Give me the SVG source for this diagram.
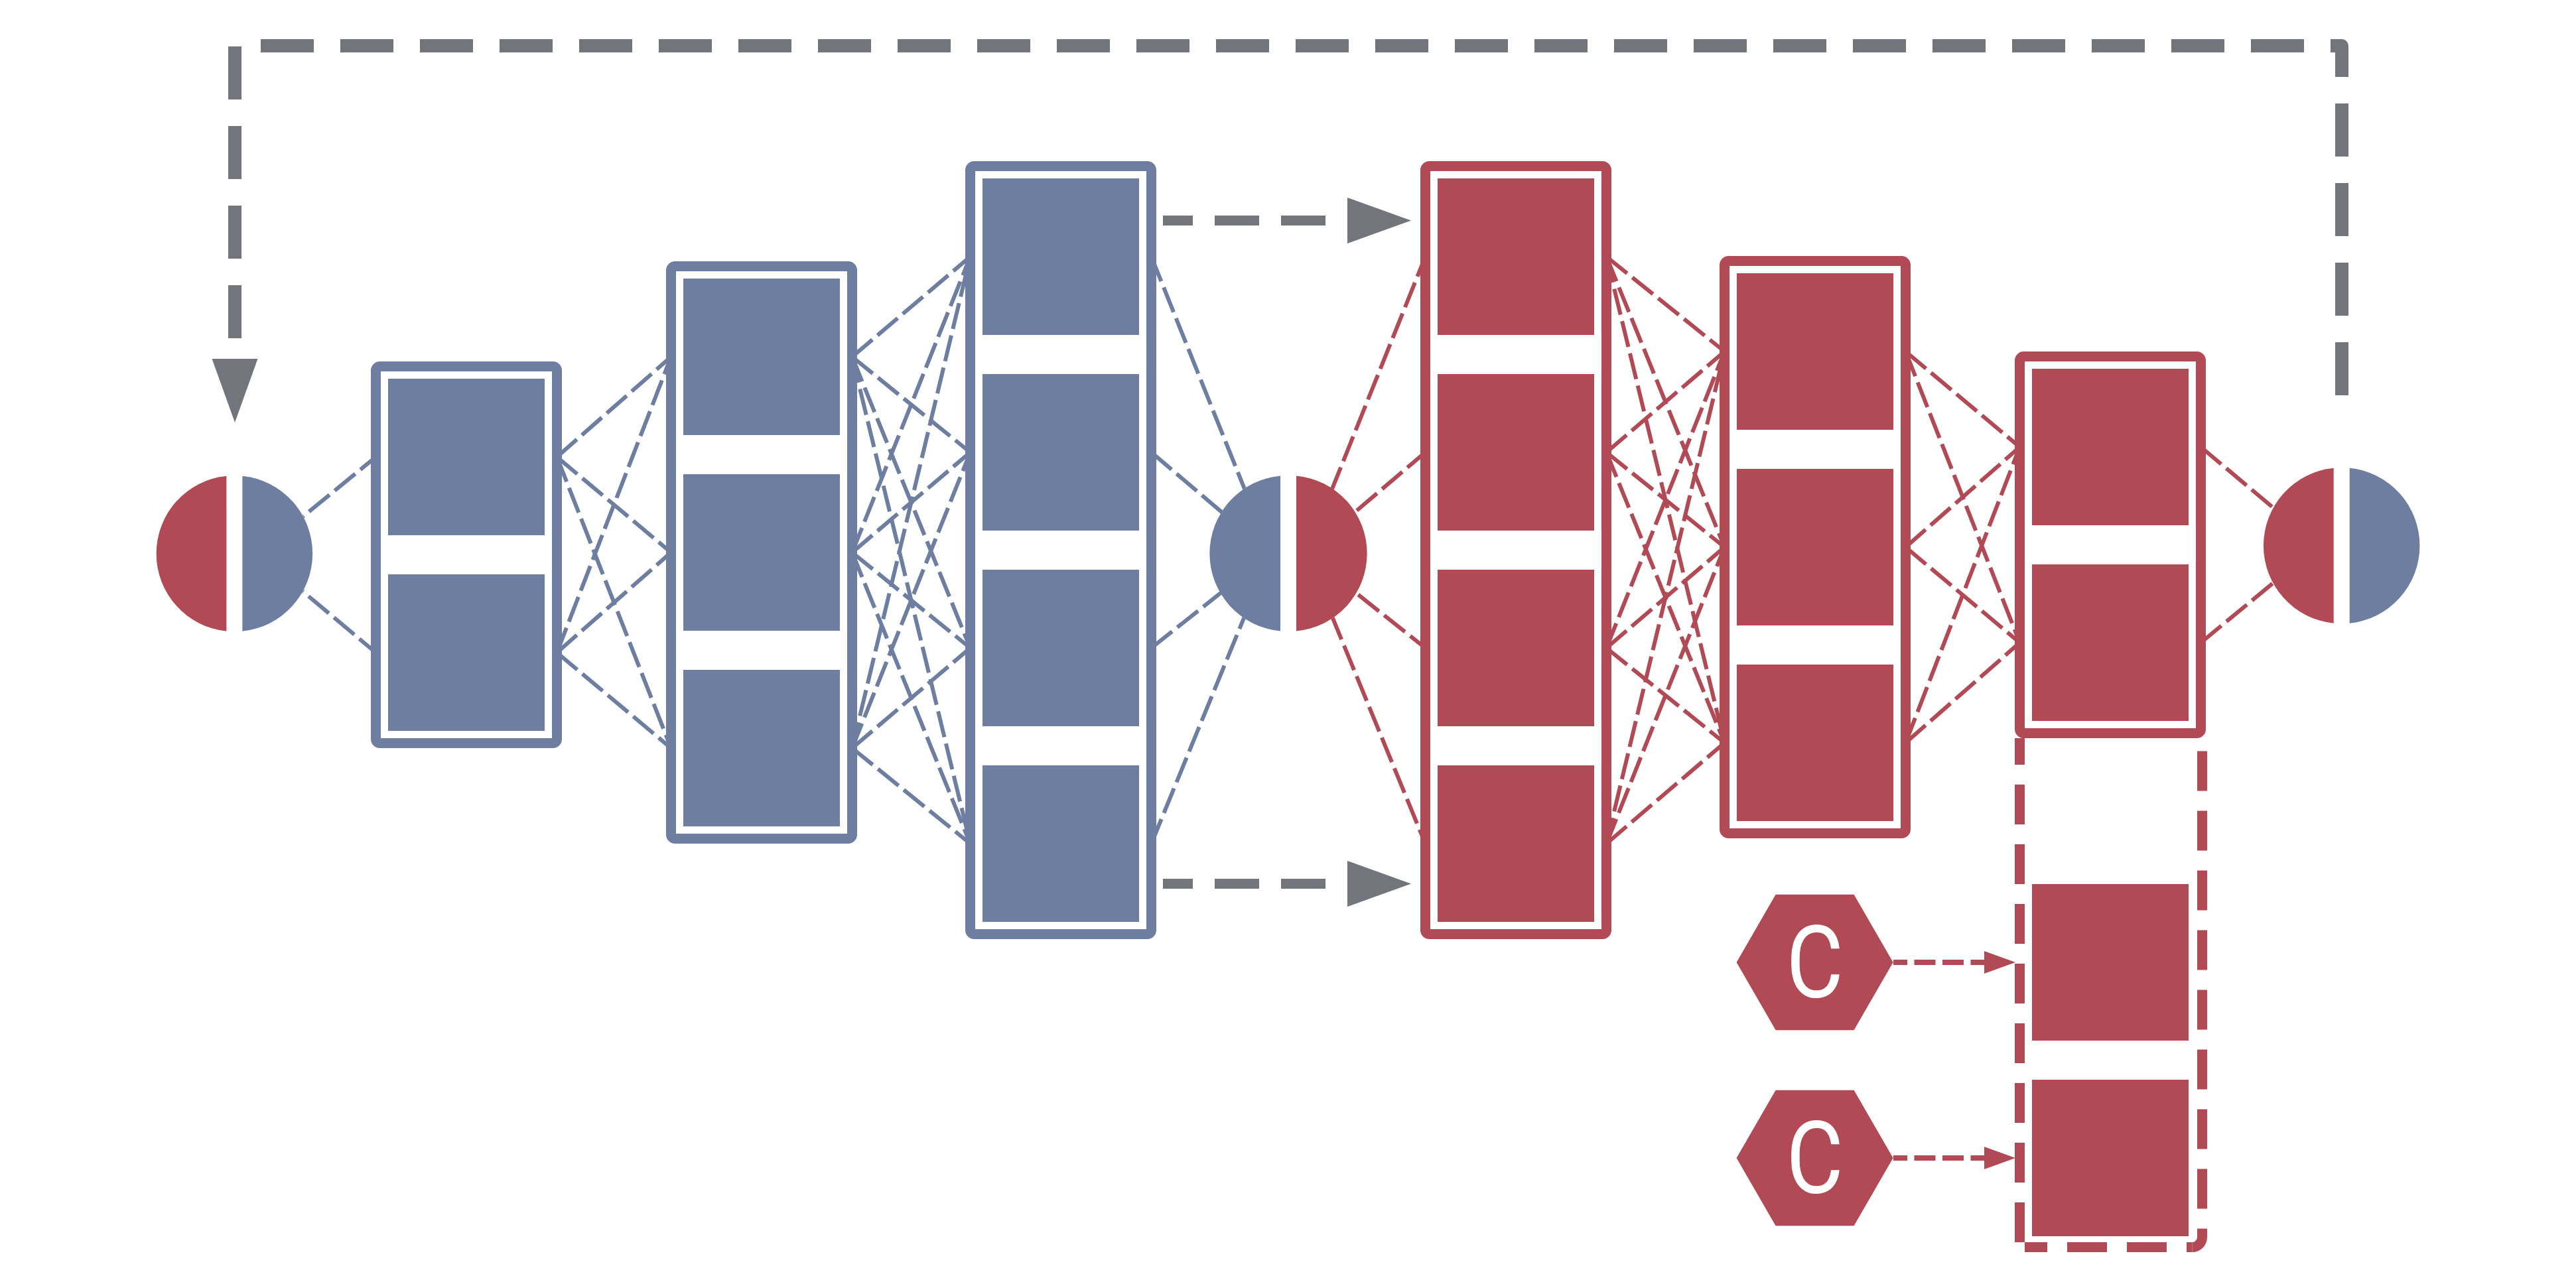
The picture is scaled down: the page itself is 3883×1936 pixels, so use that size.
<svg xmlns="http://www.w3.org/2000/svg" width="3883" height="1936" viewBox="0 0 3883 1936">
<style>
.cb{stroke:#6d7ea1;stroke-width:6;stroke-dasharray:40 10;fill:none}
.cr{stroke:#b24a56;stroke-width:6;stroke-dasharray:40 10;fill:none}
.bb{fill:none;stroke:#6d7ea1;stroke-width:15}
.br{fill:none;stroke:#b24a56;stroke-width:15}
.sb{fill:#6d7ea1}
.sr{fill:#b24a56}
.gl{fill:none;stroke:#72757c;stroke-width:20;stroke-dasharray:60 60;stroke-linecap:square;stroke-linejoin:round}
.ga{fill:none;stroke:#72757c;stroke-width:15;stroke-dasharray:67 33;stroke-dashoffset:22}
.gh{fill:#72757c}
.rd{fill:none;stroke:#b24a56;stroke-width:15;stroke-dasharray:60 30}
.ra{fill:none;stroke:#b24a56;stroke-width:8;stroke-dasharray:32 10.5;stroke-dashoffset:11}
.lbl{font-family:Roboto,"Liberation Sans",sans-serif;font-size:152px;fill:#fff}
</style>
<rect width="3883" height="1936" fill="#fff"/>
<g id="connectors">
  <!-- feedback loop -->
  <path class="gl" d="M3530 586 V69 H3523"/>
  <path class="gl" d="M3463 69 H354 V531"/>
  <polygon class="gh" points="319.5,541 388.5,541 354,637"/>
  <!-- skip arrows -->
  <line class="ga" x1="1753" y1="332.5" x2="2031" y2="332.5"/>
  <polygon class="gh" points="2031,298 2127,332.5 2031,367"/>
  <line class="ga" x1="1753" y1="1332.5" x2="2031" y2="1332.5"/>
  <polygon class="gh" points="2031,1298 2127,1332.5 2031,1367"/>
  <!-- left circle to box1 -->
  <line class="cb" x1="388.4" y1="834.7" x2="566.5" y2="689"/>
  <line class="cb" x1="388.4" y1="834.7" x2="566.5" y2="984"/>
  <!-- box1 to box2 -->
  <line class="cb" x1="839.5" y1="689" x2="1011.5" y2="538"/>
  <line class="cb" x1="839.5" y1="689" x2="1011.5" y2="833"/>
  <line class="cb" x1="839.5" y1="689" x2="1011.5" y2="1128"/>
  <line class="cb" x1="839.5" y1="984" x2="1011.5" y2="538"/>
  <line class="cb" x1="839.5" y1="984" x2="1011.5" y2="833"/>
  <line class="cb" x1="839.5" y1="984" x2="1011.5" y2="1128"/>
  <!-- box2 to box3 -->
  <line class="cb" x1="1284.5" y1="538" x2="1462.5" y2="387"/>
  <line class="cb" x1="1284.5" y1="538" x2="1462.5" y2="682"/>
  <line class="cb" x1="1284.5" y1="538" x2="1462.5" y2="977"/>
  <line class="cb" x1="1284.5" y1="538" x2="1462.5" y2="1272"/>
  <line class="cb" x1="1284.5" y1="833" x2="1462.5" y2="387"/>
  <line class="cb" x1="1284.5" y1="833" x2="1462.5" y2="682"/>
  <line class="cb" x1="1284.5" y1="833" x2="1462.5" y2="977"/>
  <line class="cb" x1="1284.5" y1="833" x2="1462.5" y2="1272"/>
  <line class="cb" x1="1284.5" y1="1128" x2="1462.5" y2="387"/>
  <line class="cb" x1="1284.5" y1="1128" x2="1462.5" y2="682"/>
  <line class="cb" x1="1284.5" y1="1128" x2="1462.5" y2="977"/>
  <line class="cb" x1="1284.5" y1="1128" x2="1462.5" y2="1272"/>
  <!-- box3 to middle circle -->
  <line class="cb" x1="1735.5" y1="387" x2="1915" y2="834.5"/>
  <line class="cb" x1="1735.5" y1="682" x2="1915" y2="834.5"/>
  <line class="cb" x1="1735.5" y1="977" x2="1915" y2="834.5"/>
  <line class="cb" x1="1735.5" y1="1272" x2="1915" y2="834.5"/>
  <!-- middle circle to box4 -->
  <line class="cr" x1="1969" y1="834.5" x2="2148.5" y2="387"/>
  <line class="cr" x1="1969" y1="834.5" x2="2148.5" y2="682"/>
  <line class="cr" x1="1969" y1="834.5" x2="2148.5" y2="977"/>
  <line class="cr" x1="1969" y1="834.5" x2="2148.5" y2="1272"/>
  <!-- box4 to box5 -->
  <line class="cr" x1="2421.5" y1="387" x2="2599.5" y2="530"/>
  <line class="cr" x1="2421.5" y1="387" x2="2599.5" y2="825"/>
  <line class="cr" x1="2421.5" y1="387" x2="2599.5" y2="1120"/>
  <line class="cr" x1="2421.5" y1="682" x2="2599.5" y2="530"/>
  <line class="cr" x1="2421.5" y1="682" x2="2599.5" y2="825"/>
  <line class="cr" x1="2421.5" y1="682" x2="2599.5" y2="1120"/>
  <line class="cr" x1="2421.5" y1="977" x2="2599.5" y2="530"/>
  <line class="cr" x1="2421.5" y1="977" x2="2599.5" y2="825"/>
  <line class="cr" x1="2421.5" y1="977" x2="2599.5" y2="1120"/>
  <line class="cr" x1="2421.5" y1="1272" x2="2599.5" y2="530"/>
  <line class="cr" x1="2421.5" y1="1272" x2="2599.5" y2="825"/>
  <line class="cr" x1="2421.5" y1="1272" x2="2599.5" y2="1120"/>
  <!-- box5 to box6 -->
  <line class="cr" x1="2872.5" y1="530" x2="3044.5" y2="674"/>
  <line class="cr" x1="2872.5" y1="530" x2="3044.5" y2="969"/>
  <line class="cr" x1="2872.5" y1="825" x2="3044.5" y2="674"/>
  <line class="cr" x1="2872.5" y1="825" x2="3044.5" y2="969"/>
  <line class="cr" x1="2872.5" y1="1120" x2="3044.5" y2="674"/>
  <line class="cr" x1="2872.5" y1="1120" x2="3044.5" y2="969"/>
  <!-- box6 to right circle -->
  <line class="cr" x1="3317.5" y1="674" x2="3494.7" y2="822.7"/>
  <line class="cr" x1="3317.5" y1="969" x2="3494.7" y2="822.7"/>
  <!-- constants to extension -->
  <line class="ra" x1="2854" y1="1451" x2="2991" y2="1451"/>
  <polygon class="sr" points="2991,1434 3038,1451 2991,1468"/>
  <line class="ra" x1="2854" y1="1746" x2="2991" y2="1746"/>
  <polygon class="sr" points="2991,1729 3038,1746 2991,1763"/>
</g>
<g id="in-circle">
  <circle cx="353.4" cy="834.7" r="118" fill="#fff"/>
  <path class="sr" d="M341.4 717.7 A117.6 117.6 0 0 0 341.4 951.7 Z"/>
  <path class="sb" d="M365.4 717.7 A117.6 117.6 0 0 1 365.4 951.7 Z"/>
</g>
<g id="box1">
  <rect class="bb" x="566.5" y="552.5" width="273" height="568" rx="6"/>
  <rect class="sb" x="585" y="571" width="236" height="236"/>
  <rect class="sb" x="585" y="866" width="236" height="236"/>
</g>
<g id="box2">
  <rect class="bb" x="1011.5" y="401.5" width="273" height="863" rx="6"/>
  <rect class="sb" x="1030" y="420" width="236" height="236"/>
  <rect class="sb" x="1030" y="715" width="236" height="236"/>
  <rect class="sb" x="1030" y="1010" width="236" height="236"/>
</g>
<g id="box3">
  <rect class="bb" x="1462.5" y="250.5" width="273" height="1158" rx="6"/>
  <rect class="sb" x="1481" y="269" width="236" height="236"/>
  <rect class="sb" x="1481" y="564" width="236" height="236"/>
  <rect class="sb" x="1481" y="859" width="236" height="236"/>
  <rect class="sb" x="1481" y="1154" width="236" height="236"/>
</g>
<g id="mid-circle">
  <circle cx="1942" cy="834.5" r="118" fill="#fff"/>
  <path class="sb" d="M1930 717.5 A117.5 117.5 0 0 0 1930 951.5 Z"/>
  <path class="sr" d="M1954 717.5 A117.5 117.5 0 0 1 1954 951.5 Z"/>
</g>
<g id="box4">
  <rect class="br" x="2148.5" y="250.5" width="273" height="1158" rx="6"/>
  <rect class="sr" x="2167" y="269" width="236" height="236"/>
  <rect class="sr" x="2167" y="564" width="236" height="236"/>
  <rect class="sr" x="2167" y="859" width="236" height="236"/>
  <rect class="sr" x="2167" y="1154" width="236" height="236"/>
</g>
<g id="box5">
  <rect class="br" x="2599.5" y="393.5" width="273" height="863" rx="6"/>
  <rect class="sr" x="2618" y="412" width="236" height="236"/>
  <rect class="sr" x="2618" y="707" width="236" height="236"/>
  <rect class="sr" x="2618" y="1002" width="236" height="236"/>
</g>
<g id="box6">
  <rect class="br" x="3044.5" y="537.5" width="273" height="568" rx="6"/>
  <rect class="sr" x="3063" y="556" width="236" height="236"/>
  <rect class="sr" x="3063" y="851" width="236" height="236"/>
</g>
<g id="box6-extension">
  <path class="rd" style="stroke-dashoffset:20" d="M3044.5 1113 V1873"/>
  <path class="rd" style="stroke-dashoffset:70.5" d="M3319.5 1113 V1865.5 A15 15 0 0 1 3304.5 1880.5"/>
  <path class="rd" style="stroke-dashoffset:51.5" d="M3304.5 1880.5 H3052"/>
  <rect class="sr" x="3063" y="1333" width="236" height="236"/>
  <rect class="sr" x="3063" y="1628" width="236" height="236"/>
</g>
<g id="out-circle">
  <circle cx="3529.7" cy="822.7" r="118" fill="#fff"/>
  <path class="sr" d="M3517.7 705.7 A117.6 117.6 0 0 0 3517.7 939.7 Z"/>
  <path class="sb" d="M3541.7 705.7 A117.6 117.6 0 0 1 3541.7 939.7 Z"/>
</g>
<g id="const1">
  <polygon class="sr" points="2617.6,1451 2676.6,1348.8 2794.6,1348.8 2853.6,1451 2794.6,1553.2 2676.6,1553.2"/>
  <text class="lbl" text-anchor="middle" transform="translate(2735.6 1504) scale(0.87 1)">C</text>
</g>
<g id="const2">
  <polygon class="sr" points="2617.6,1746 2676.6,1643.8 2794.6,1643.8 2853.6,1746 2794.6,1848.2 2676.6,1848.2"/>
  <text class="lbl" text-anchor="middle" transform="translate(2735.6 1799) scale(0.87 1)">C</text>
</g>
</svg>
